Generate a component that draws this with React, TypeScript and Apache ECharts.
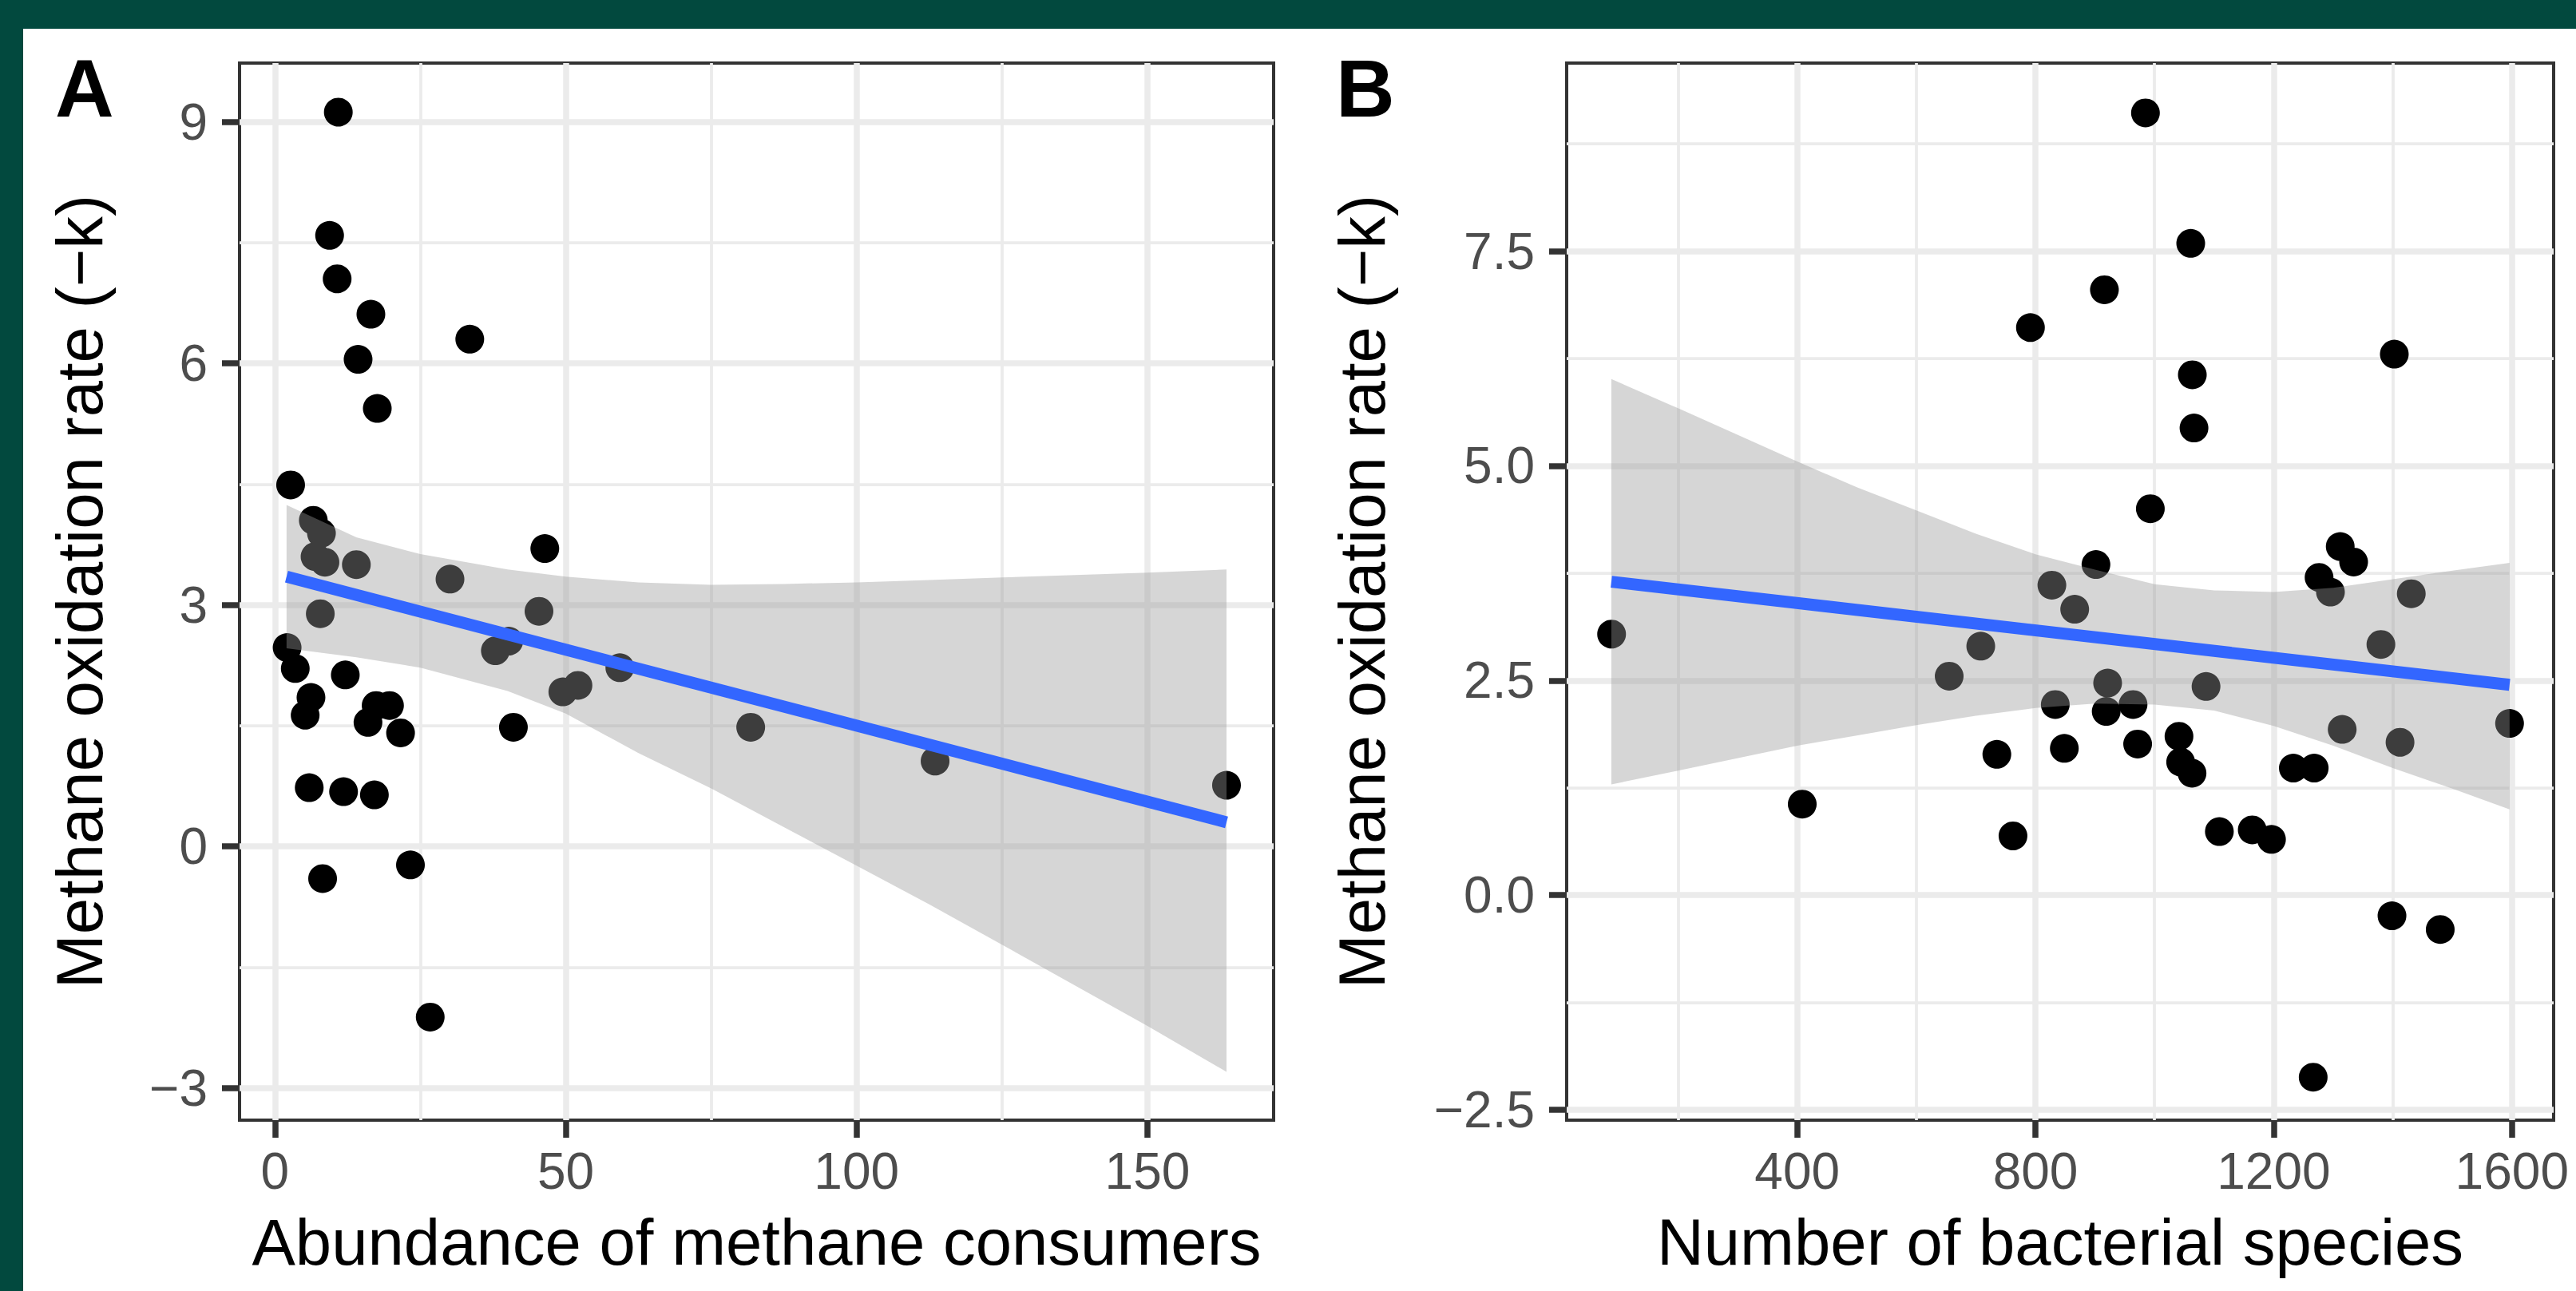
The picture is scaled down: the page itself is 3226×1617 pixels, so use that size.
import React, { useEffect, useRef } from "react";
import * as echarts from "echarts";

// ---------- Panel A: abundance of methane consumers vs methane oxidation rate ----------
const consumersAbundance = [
  10.9, 9.4, 10.7, 16.5, 33.5, 14.3, 17.6, 2.7, 6.6, 8.0, 6.9, 8.6, 14.0, 30.1, 46.4,
  7.8, 45.4, 2.1, 3.5, 12.1, 6.2, 5.2, 17.4, 19.7, 16.0, 21.6, 41.0, 37.9, 40.2, 49.5,
  52.1, 59.3, 5.9, 11.8, 17.1, 8.2, 23.3, 26.7, 81.8, 113.5, 163.6,
];
const rateA = [
  9.12, 7.59, 7.05, 6.61, 6.3, 6.05, 5.44, 4.49, 4.05, 3.89, 3.6, 3.53, 3.5, 3.32, 3.7,
  2.89, 2.92, 2.47, 2.21, 2.13, 1.85, 1.63, 1.75, 1.75, 1.54, 1.41, 1.48, 2.43, 2.55, 1.92,
  2.0, 2.22, 0.73, 0.68, 0.64, -0.4, -0.23, -2.12, 1.48, 1.06, 0.76,
];
const fitAx = [2.0, 163.6];
const fitAy = [3.35, 0.3];
const bandAx = [2.0, 14, 25, 40, 50, 62.5, 75, 87.5, 100, 112.5, 125, 150, 163.6];
const bandAupper = [4.24, 3.84, 3.63, 3.44, 3.35, 3.28, 3.25, 3.26, 3.28, 3.31, 3.34, 3.4, 3.44];
const bandAlower = [2.46, 2.35, 2.22, 1.93, 1.65, 1.16, 0.72, 0.24, -0.24, -0.72, -1.22, -2.23, -2.8];

// ---------- Panel B: number of bacterial species vs methane oxidation rate ----------
const bacterialSpecies = [
  984.7, 1060.7, 915.8, 791.6, 1402.5, 1063.4, 1066.2, 992.9, 1311.7, 1334.2, 901.6, 1276.2,
  827.6, 1295.3, 1431, 865.9, 88.4, 1380, 708.2, 655.2, 921.2, 1086.4, 833.3, 963.9, 918.8,
  1596, 1315, 1041, 1412.1, 971.6, 848.5, 735.2, 1043.8, 1233, 1268, 1062.9, 408.5, 1108.8,
  1164, 762.3, 1196.3, 1398.6, 1479.6, 1266.3,
];
const rateB = [
  9.11, 7.59, 7.05, 6.61, 6.3, 6.06, 5.44, 4.5, 4.06, 3.88, 3.85, 3.7, 3.61, 3.53, 3.51,
  3.33, 3.04, 2.92, 2.9, 2.55, 2.47, 2.43, 2.22, 2.22, 2.14, 2.0, 1.93, 1.85, 1.78, 1.76,
  1.71, 1.64, 1.55, 1.48, 1.48, 1.42, 1.06, 0.74, 0.76, 0.69, 0.65, -0.24, -0.4, -2.12,
];
const fitBx = [88, 1596];
const fitBy = [3.65, 2.45];
const bandBx = [88, 200, 400, 500, 600, 700, 800, 900, 1000, 1100, 1200, 1300, 1400, 1500, 1596];
const bandBupper = [6.01, 5.67, 5.05, 4.75, 4.48, 4.21, 3.97, 3.79, 3.62, 3.55, 3.53, 3.58, 3.68, 3.78, 3.87];
const bandBlower = [1.29, 1.45, 1.74, 1.86, 1.98, 2.09, 2.18, 2.23, 2.22, 2.15, 1.97, 1.74, 1.48, 1.24, 1.0];

// ---------- Ticks ----------
const xTicksA = [0, 50, 100, 150];
const xMinorA = [25, 75, 125];
const yTicksA = [-3, 0, 3, 6, 9];
const yMinorA = [-1.5, 1.5, 4.5, 7.5];
const xTicksB = [400, 800, 1200, 1600];
const xMinorB = [200, 600, 1000, 1400];
const yTicksB = [-2.5, 0, 2.5, 5, 7.5];
const yMinorB = [-1.25, 1.25, 3.75, 6.25, 8.75];

const yTitle = "Methane oxidation rate (\u2212k)";
const xTitleA = "Abundance of methane consumers";
const xTitleB = "Number of bacterial species";

const FONT = '"Liberation Sans", Arial, Helvetica, sans-serif';
const GRID_MAJOR = "#EBEBEB";
const TITLE_SIZE = 81.5;

function fmt(decimals: number) {
  return (v: number) => {
    const s = Math.abs(v).toFixed(decimals);
    return v < 0 ? "\u2212" + s : s;
  };
}

function majorAxis(
  gridIndex: number,
  min: number,
  max: number,
  ticks: number[],
  formatter: (v: number) => string,
  name: string,
  nameGap: number,
  margin: number
) {
  return {
    type: "value",
    gridIndex,
    min,
    max,
    axisLine: { show: false, onZero: false },
    axisTick: {
      show: true,
      length: 22,
      customValues: ticks,
      lineStyle: { color: "#333333", width: 7.5 },
    },
    axisLabel: {
      customValues: ticks,
      margin,
      formatter,
      color: "#4D4D4D",
      fontSize: 64,
      fontFamily: FONT,
    },
    splitLine: { show: true, lineStyle: { color: GRID_MAJOR, width: 7.5 } },
    name,
    nameLocation: "middle",
    nameGap,
    nameTextStyle: { color: "#000000", fontSize: TITLE_SIZE, fontFamily: FONT },
  };
}

function minorAxis(gridIndex: number, min: number, max: number, ticks: number[], position: string) {
  return {
    type: "value",
    gridIndex,
    min,
    max,
    position,
    axisLine: { show: false, onZero: false },
    axisTick: { show: false, customValues: ticks },
    axisLabel: { show: false },
    splitLine: { show: true, lineStyle: { color: GRID_MAJOR, width: 3.75 } },
  };
}

function bandSeries(xIdx: number, yIdx: number, bx: number[], up: number[], lo: number[]) {
  return {
    type: "custom",
    xAxisIndex: xIdx,
    yAxisIndex: yIdx,
    z: 3,
    silent: true,
    clip: true,
    data: bx.map((x, i) => [x, up[i], lo[i]]),
    encode: { x: 0, y: [1, 2] },
    renderItem: (params: any, api: any) => {
      if (params.dataIndex !== 0) return null;
      const pts: number[][] = [];
      for (let i = 0; i < bx.length; i++) pts.push(api.coord([bx[i], up[i]]));
      for (let i = bx.length - 1; i >= 0; i--) pts.push(api.coord([bx[i], lo[i]]));
      return {
        type: "polygon",
        shape: { points: pts },
        style: { fill: "rgba(153,153,153,0.4)", stroke: "none" },
      };
    },
  };
}

function scatterSeries(xIdx: number, yIdx: number, xs: number[], ys: number[]) {
  return {
    type: "scatter",
    xAxisIndex: xIdx,
    yAxisIndex: yIdx,
    z: 2,
    silent: true,
    symbol: "circle",
    symbolSize: 36,
    itemStyle: { color: "#000000", opacity: 1 },
    data: xs.map((x, i) => [x, ys[i]]),
  };
}

function fitSeries(xIdx: number, yIdx: number, xs: number[], ys: number[]) {
  return {
    type: "line",
    xAxisIndex: xIdx,
    yAxisIndex: yIdx,
    z: 4,
    silent: true,
    symbol: "none",
    lineStyle: { color: "#3366FF", width: 15, cap: "butt" },
    data: xs.map((x, i) => [x, ys[i]]),
  };
}

export default function App() {
  const ref = useRef<HTMLDivElement>(null);

  useEffect(() => {
    if (!ref.current) return;
    const chart = echarts.init(ref.current, null, { renderer: "svg" });
    const half = TITLE_SIZE / 2;
    const option: any = {
      animation: false,
      backgroundColor: "#FFFFFF",
      grid: [
        {
          left: 300,
          top: 79,
          width: 1295,
          height: 1324,
          show: true,
          borderColor: "#333333",
          borderWidth: 4,
          backgroundColor: "#FFFFFF",
          containLabel: false,
          outerBoundsMode: "none",
        },
        {
          left: 1962,
          top: 79,
          width: 1236,
          height: 1324,
          show: true,
          borderColor: "#333333",
          borderWidth: 4,
          backgroundColor: "#FFFFFF",
          containLabel: false,
          outerBoundsMode: "none",
        },
      ],
      xAxis: [
        majorAxis(0, -6.08, 171.7, xTicksA, fmt(0), xTitleA, 152 - half, 32),
        minorAxis(0, -6.08, 171.7, xMinorA, "top"),
        majorAxis(1, 13, 1670, xTicksB, fmt(0), xTitleB, 152 - half, 32),
        minorAxis(1, 13, 1670, xMinorB, "top"),
      ],
      yAxis: [
        majorAxis(0, -3.4, 9.73, yTicksA, fmt(0), yTitle, 200 - half, 40),
        minorAxis(0, -3.4, 9.73, yMinorA, "right"),
        majorAxis(1, -2.62, 9.69, yTicksB, fmt(1), yTitle, 256 - half, 40),
        minorAxis(1, -2.62, 9.69, yMinorB, "right"),
      ],
      series: [
        scatterSeries(0, 0, consumersAbundance, rateA),
        bandSeries(0, 0, bandAx, bandAupper, bandAlower),
        fitSeries(0, 0, fitAx, fitAy),
        scatterSeries(2, 2, bacterialSpecies, rateB),
        bandSeries(2, 2, bandBx, bandBupper, bandBlower),
        fitSeries(2, 2, fitBx, fitBy),
      ],
      graphic: [
        { type: "rect", left: 0, top: 0, shape: { width: 3226, height: 36 }, style: { fill: "#02493E" }, z: 10 },
        { type: "rect", left: 0, top: 0, shape: { width: 29, height: 1617 }, style: { fill: "#02493E" }, z: 10 },
        {
          type: "text",
          x: 69,
          y: 111,
          z: 10,
          style: {
            text: "A",
            fontSize: 102,
            fontWeight: "bold",
            fontFamily: FONT,
            fill: "#000000",
            textAlign: "left",
            textVerticalAlign: "middle",
          },
        },
        {
          type: "text",
          x: 1673,
          y: 111,
          z: 10,
          style: {
            text: "B",
            fontSize: 102,
            fontWeight: "bold",
            fontFamily: FONT,
            fill: "#000000",
            textAlign: "left",
            textVerticalAlign: "middle",
          },
        },
      ],
    };
    chart.setOption(option);
    return () => {
      chart.dispose();
    };
  }, []);

  return (
    <div
      ref={ref}
      style={{
        position: "fixed",
        left: 0,
        top: 0,
        width: 3226,
        height: 1617,
        background: "#FFFFFF",
      }}
    />
  );
}
